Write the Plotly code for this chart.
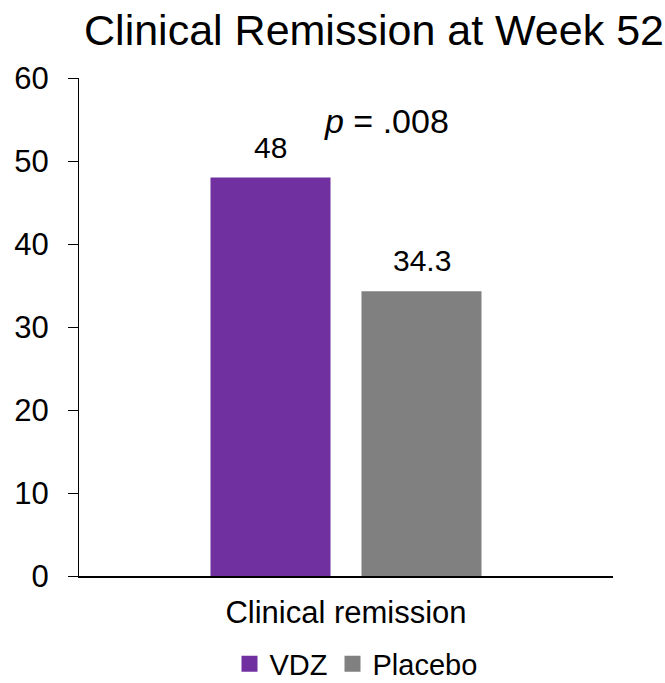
import plotly.graph_objects as go

# Chart data
categories = ["Clinical remission"]
series_names = ["VDZ", "Placebo"]
series_values = [[48], [34.3]]
series_colors = ["#7030A0", "#808080"]
y_ticks = [0, 10, 20, 30, 40, 50, 60]
p_text = "<i>p</i> = .008"

FONT = "Arial, Liberation Sans, sans-serif"

fig = go.Figure()

# Bars (legend handled by square-marker proxies below)
for name, vals, color in zip(series_names, series_values, series_colors):
    fig.add_trace(go.Bar(
        x=categories, y=vals, name=name, marker_color=color,
        marker_line_width=0, showlegend=False,
    ))

# Legend proxies with larger square swatches
for name, color in zip(series_names, series_colors):
    fig.add_trace(go.Scatter(
        x=[None], y=[None], mode="markers", name=name,
        marker=dict(symbol="square", size=16, color=color),
    ))

# Value labels above each bar
offsets = [-75.5, 75.5]
for vals, dx in zip(series_values, offsets):
    for cat, v in zip(categories, vals):
        fig.add_annotation(
            x=cat, y=v, text=f"{v:g}", showarrow=False,
            xanchor="center", yanchor="bottom", xshift=dx, yshift=12,
            font=dict(family=FONT, size=30, color="black"),
        )

# Significance label
fig.add_annotation(
    xref="paper", yref="paper", x=(386 - 79) / 534, y=(576 - 121) / 498,
    text=p_text, showarrow=False, xanchor="center", yanchor="middle",
    font=dict(family=FONT, size=34, color="black"),
)

fig.update_layout(
    width=665, height=683,
    margin=dict(l=79, r=52, t=78, b=107, autoexpand=False),
    paper_bgcolor="white", plot_bgcolor="white",
    barmode="group", bargap=0.4345, bargroupgap=0.205,
    font=dict(family=FONT, color="black"),
    title=dict(
        text="Clinical Remission at Week 52",
        xref="container", yref="container",
        x=374 / 665, y=1 - 30 / 683, xanchor="center", yanchor="middle",
        font=dict(family=FONT, size=43, color="black"),
    ),
    legend=dict(
        orientation="h", xref="container", yref="container",
        x=356 / 665, y=1 - 664 / 683, xanchor="center", yanchor="middle",
        font=dict(family=FONT, size=29, color="black"),
    ),
    showlegend=True,
)

fig.update_xaxes(
    showline=True, linecolor="black", linewidth=2,
    ticks="", showgrid=False, zeroline=False,
    tickfont=dict(family=FONT, size=31, color="black"),
    ticklabelstandoff=8,
)
fig.update_yaxes(
    range=[0, 60], tickvals=y_ticks,
    showline=True, linecolor="black", linewidth=1.25,
    ticks="outside", ticklen=10, tickwidth=1.25, tickcolor="black",
    showgrid=False, zeroline=False,
    tickfont=dict(family=FONT, size=31, color="black"),
    ticklabelstandoff=13,
)

fig.write_html("out.html")
